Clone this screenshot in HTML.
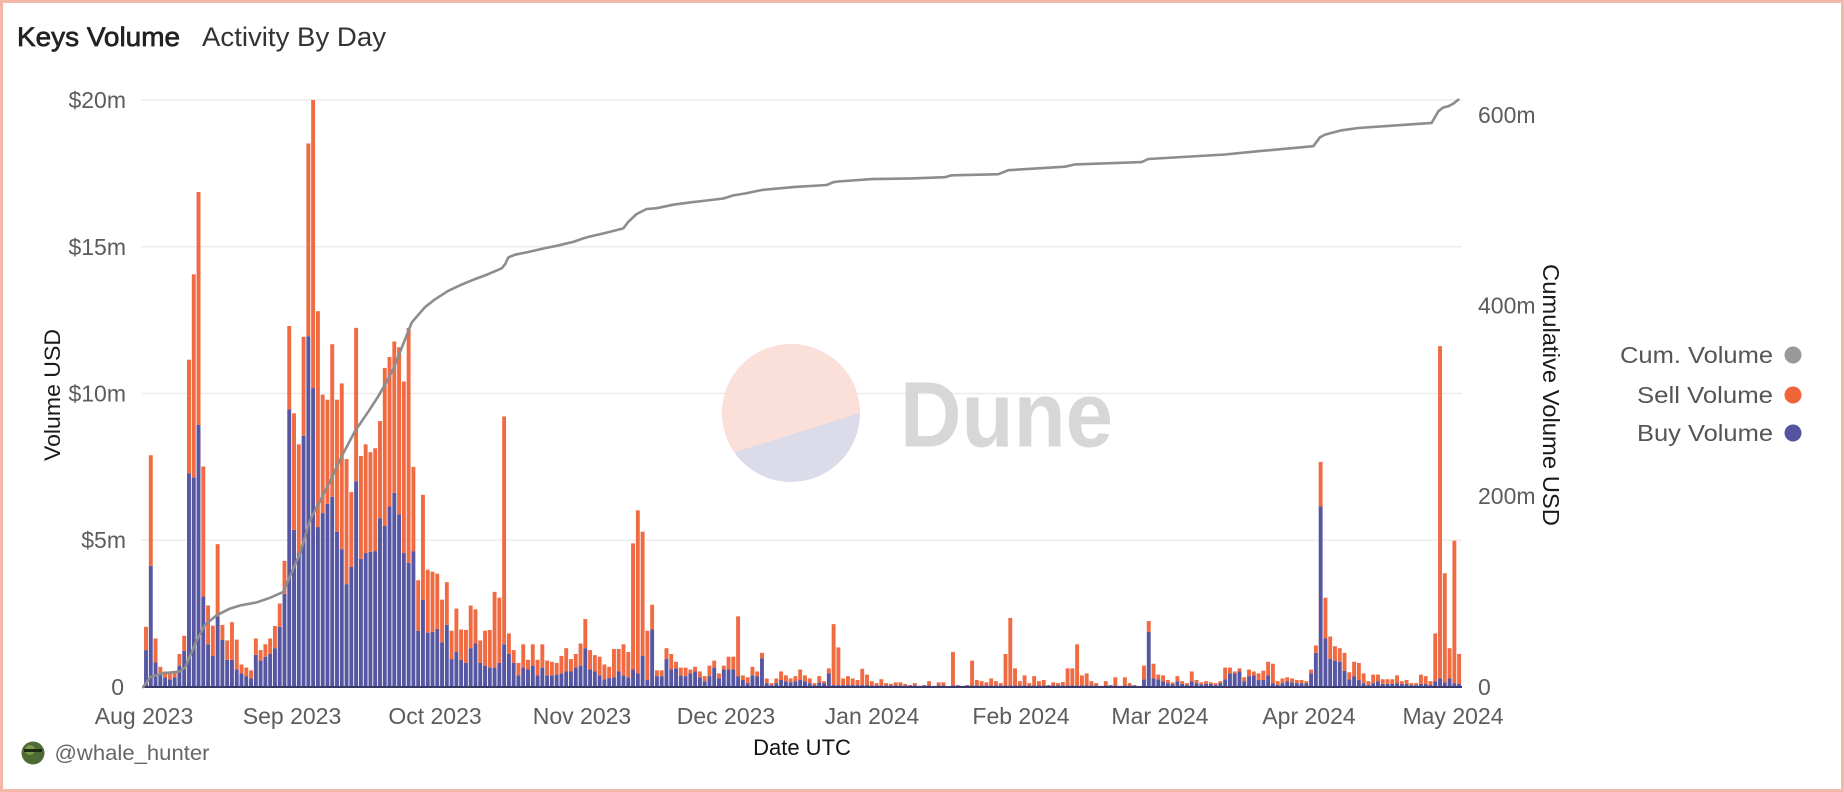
<!DOCTYPE html>
<html>
<head>
<meta charset="utf-8">
<style>
html,body{margin:0;padding:0;background:#fff;}
svg{display:block;}
</style>
</head>
<body>
<svg id="c" width="1844" height="792" viewBox="0 0 1844 792" xmlns="http://www.w3.org/2000/svg" font-family="'Liberation Sans', Arial, sans-serif">
  <rect x="0" y="0" width="1844" height="792" fill="#ffffff"/>
  <rect x="1.5" y="1.5" width="1841" height="789" fill="none" stroke="#f4b8aa" stroke-width="3"/>

  <!-- Title -->
  <text x="17" y="46" font-size="26.5" fill="#222" stroke="#222" stroke-width="0.7" textLength="163" lengthAdjust="spacingAndGlyphs">Keys Volume</text>
  <text x="202" y="46" font-size="27" fill="#333" textLength="184" lengthAdjust="spacingAndGlyphs">Activity By Day</text>

  <!-- Gridlines -->
  <g stroke="#ececec" stroke-width="1.5">
    <line x1="141" y1="100" x2="1462" y2="100"/>
    <line x1="141" y1="246.75" x2="1462" y2="246.75"/>
    <line x1="141" y1="393.5" x2="1462" y2="393.5"/>
    <line x1="141" y1="540.25" x2="1462" y2="540.25"/>
  </g>

  <!-- Watermark -->
  <g>
    <circle cx="791" cy="413" r="69" fill="#dbdbe9"/>
    <path d="M 860 413 A 69 69 0 1 0 734.3 452.4 Z" fill="#fbdfd9"/>
    <text x="900" y="446.6" font-size="93" font-weight="bold" fill="#d7d7d7" textLength="213" lengthAdjust="spacingAndGlyphs">Dune</text>
  </g>

  <!-- Left axis labels -->
  <g font-size="23" fill="#5c5c5c" text-anchor="end">
    <text x="126" y="108">$20m</text>
    <text x="126" y="255">$15m</text>
    <text x="126" y="401.5">$10m</text>
    <text x="126" y="548">$5m</text>
    <text x="124" y="695">0</text>
  </g>

  <!-- Right axis labels -->
  <g font-size="23" fill="#5c5c5c" text-anchor="start">
    <text x="1478" y="123">600m</text>
    <text x="1478" y="313.5">400m</text>
    <text x="1478" y="504">200m</text>
    <text x="1478" y="695">0</text>
  </g>

  <!-- Axis titles -->
  <text transform="translate(60,395) rotate(-90)" text-anchor="middle" font-size="22" fill="#1a1a1a" textLength="132" lengthAdjust="spacingAndGlyphs">Volume USD</text>
  <text transform="translate(1543,395) rotate(90)" text-anchor="middle" font-size="23" fill="#1a1a1a" textLength="262" lengthAdjust="spacingAndGlyphs">Cumulative Volume USD</text>

  <!-- X labels -->
  <g font-size="23" fill="#5c5c5c" text-anchor="middle">
    <text x="144" y="724">Aug 2023</text>
    <text x="292" y="724">Sep 2023</text>
    <text x="435" y="724">Oct 2023</text>
    <text x="582" y="724">Nov 2023</text>
    <text x="726" y="724">Dec 2023</text>
    <text x="872" y="724">Jan 2024</text>
    <text x="1021" y="724">Feb 2024</text>
    <text x="1160" y="724">Mar 2024</text>
    <text x="1309" y="724">Apr 2024</text>
    <text x="1453" y="724">May 2024</text>
  </g>
  <text x="802" y="755" text-anchor="middle" font-size="22" fill="#111">Date UTC</text>

  <!-- Bars and line -->
  <g id="bars"></g>
  <line x1="142" y1="687" x2="1462" y2="687" stroke="#3a3a66" stroke-width="2"/>
  <polyline id="cum" fill="none" stroke="#8d8d8d" stroke-width="2.6" stroke-linejoin="round" stroke-linecap="round" points=""/>

  <!-- Legend -->
  <g font-size="23" fill="#555" text-anchor="end">
    <text x="1773" y="363" textLength="153" lengthAdjust="spacingAndGlyphs">Cum. Volume</text>
    <text x="1773" y="403" textLength="136" lengthAdjust="spacingAndGlyphs">Sell Volume</text>
    <text x="1773" y="441" textLength="136" lengthAdjust="spacingAndGlyphs">Buy Volume</text>
  </g>
  <circle cx="1793" cy="355" r="8.5" fill="#999999"/>
  <circle cx="1793" cy="395" r="8.5" fill="#f0643a"/>
  <circle cx="1793" cy="433" r="8.5" fill="#5454a0"/>

  <!-- Footer -->
  <circle cx="33" cy="753" r="11.5" fill="#4d6b35"/>
  <circle cx="30" cy="750" r="5" fill="#7a9a4a"/>
  <rect x="24" y="749" width="18" height="3" fill="#1d2a12"/>
  <text x="54.5" y="760" font-size="21" fill="#666" textLength="155" lengthAdjust="spacingAndGlyphs">@whale_hunter</text>
</svg>
<script>
(function(){
var T=[
1385,943,1415,1488,1500,1505,1500,1455,1408,697,
477,265,972,1330,1382,1172,1380,1420,1373,1418,
1482,1490,1497,1415,1445,1430,1415,1383,1325,1215,
610,835,915,638,140,28,572,787,800,657,
800,758,953,1038,615,945,915,935,925,855,
718,690,650,665,753,615,973,1265,1045,1238,
1243,1248,1315,1270,1395,1338,1392,1393,1330,1340,
1420,1395,1393,1295,1310,843,1402,1445,1478,1430,
1470,1430,1470,1430,1472,1475,1478,1460,1440,1468,
1455,1428,1365,1445,1458,1462,1482,1488,1442,1442,
1430,1450,1170,1085,1140,1395,1328,1497,1497,1440,
1455,1475,1490,1490,1495,1488,1500,1512,1485,1472,
1505,1485,1462,1462,1358,1510,1515,1488,1500,1452,
1518,1530,1518,1500,1510,1518,1512,1495,1510,1518,
1530,1512,1525,1492,1378,1438,1518,1512,1518,1522,
1493,1508,1525,1530,1520,1530,1532,1528,1528,1532,
1535,1530,1537,1535,1525,1537,1528,1528,1538,1450,
1535,1537,1535,1472,1522,1525,1528,1518,1525,1530,
1455,1362,1492,1525,1510,1530,1512,1525,1522,1535,
1528,1530,1527,1492,1492,1430,1510,1505,1525,1530,
1537,1525,1535,1515,1537,1515,1530,1535,1538,1485,
1370,1480,1508,1510,1522,1528,1512,1525,1530,1500,
1522,1528,1525,1528,1530,1525,1490,1490,1500,1492,
1515,1495,1500,1505,1498,1475,1480,1525,1518,1515,
1518,1522,1522,1525,1495,1433,960,1310,1410,1435,
1440,1452,1502,1475,1478,1505,1525,1508,1508,1520,
1520,1520,1510,1525,1522,1530,1530,1508,1512,1525,
1402,662,1247,1440,1163,1455];
var B1=[
1445,1228,1477,1505,1515,1520,1515,1485,1447,990,
1000,865,1307,1430,1460,1358,1418,1470,1470,1495,
1505,1512,1518,1457,1472,1462,1455,1440,1385,1300,
825,1135,1195,893,637,770,1128,1092,1068,1050,
1140,1185,1275,1230,1010,1210,1195,1192,1190,1105,
1125,1075,1040,1095,1195,1220,1190,1395,1315,1400,
1398,1390,1425,1380,1468,1450,1470,1478,1440,1428,
1478,1485,1490,1490,1478,1430,1455,1478,1510,1490,
1495,1485,1510,1490,1510,1510,1508,1505,1500,1500,
1490,1485,1440,1495,1500,1510,1520,1517,1515,1500,
1510,1515,1495,1505,1460,1522,1392,1512,1512,1468,
1495,1492,1510,1512,1505,1500,1515,1525,1512,1490,
1518,1495,1495,1495,1512,1522,1530,1510,1512,1466,
1530,1535,1530,1522,1525,1528,1525,1522,1525,1530,
1535,1528,1530,1505,1535,1535,1535,1535,1535,1535,
1535,1535];
var B3=[1520,1398,1518,1520,1525,1530,1532,1525,1532,1535,1525,1530,1533,1532,1532,1535,1530,1520,
1505,1505,1500,1525,1512,1510,1522,1522,1510,1530,1535,1530,1525,1528,1530,1530,1530,1505,1452,1075,
1415,1468,1472,1475,1498,1520,1512,1522,1530,1535,1530,1525,1532,1532,1532,1530,1532,1532,1535,1535,
1532,1532,1535,1525,1518,1528,1518,1530,1532];
var B=B1.slice();
for(var k=152;k<=208;k++)B.push(1536);
B=B.concat(B3);
function Y(p){return 100+(p-28)*0.38823;}
var ns="http://www.w3.org/2000/svg";
var g=document.getElementById("bars");
var w=3.9;
for(var d=0;d<T.length;d++){
  var cx=146+4.775*d;
  var t=T[d], b=B[d]; if(b===undefined)b=1536; if(b<t)b=t;
  var yt=Y(t), yb=Y(b), y0=687;
  if(yb<y0){
    var r=document.createElementNS(ns,"rect");
    r.setAttribute("x",(cx-w/2).toFixed(2));r.setAttribute("y",yb.toFixed(2));
    r.setAttribute("width",w);r.setAttribute("height",(y0-yb).toFixed(2));
    r.setAttribute("fill","#5656a2");g.appendChild(r);
  }
  if(yt<yb){
    var s=document.createElementNS(ns,"rect");
    s.setAttribute("x",(cx-w/2).toFixed(2));s.setAttribute("y",yt.toFixed(2));
    s.setAttribute("width",w);s.setAttribute("height",(yb-yt).toFixed(2));
    s.setAttribute("fill","#f06a42");g.appendChild(s);
  }
}
var P=[[143.3,687],[150,677.2],[163.3,673.3],[180,671.4],[185,667.5],[196.7,640.4],[205,624.9],[216.7,615.2],[230,608.6],[240,605.5],[256.7,602.4],[270,597.8],[283.3,591.9],[288.3,580.3],[300,553.2],[310,520.2],[320,500.9],[330,481.5],[341.7,456.3],[355,431.1],[368.3,411.7],[378.3,396.2],[385,384.6],[393.3,369.1],[401.7,347.8],[411.7,322.6],[416.7,316.7],[425,307.1],[435,299.3],[448.3,290.8],[461.7,284.6],[475,279.1],[488.3,274.1],[501.7,268.3],[505,264.4],[508.3,257.4],[515,254.7],[528.3,252],[545,248.1],[556.7,245.8],[573.3,241.9],[583.3,238.4],[590,236.5],[606.7,232.6],[623.3,228.4],[628.3,221.8],[636.7,214],[646.7,209],[656.7,208.2],[673.3,204.7],[690,202.4],[706.7,200.5],[723.3,198.5],[733.3,195.4],[745,193.5],[761.7,190],[795,186.9],[826.7,185],[833.3,182.2],[838.3,181.5],[871.7,179.1],[911.7,178.4],[945,177.2],[951.7,175.3],[985,174.6],[998.3,174.2],[1008.3,170.2],[1065,166.7],[1075,164.4],[1141.7,162.1],[1148.3,159],[1225,154.5],[1258.3,151.2],[1313.3,146.2],[1320,137.3],[1325,134.6],[1341.7,130.3],[1358.3,128],[1391.7,125.7],[1431.7,122.9],[1438.3,111.3],[1443.3,107.4],[1448.3,106.3],[1453.3,103.6],[1458.3,99.7]];
document.getElementById("cum").setAttribute("points",P.map(function(p){return p[0]+","+p[1];}).join(" "));
})();
</script>
</body>
</html>
